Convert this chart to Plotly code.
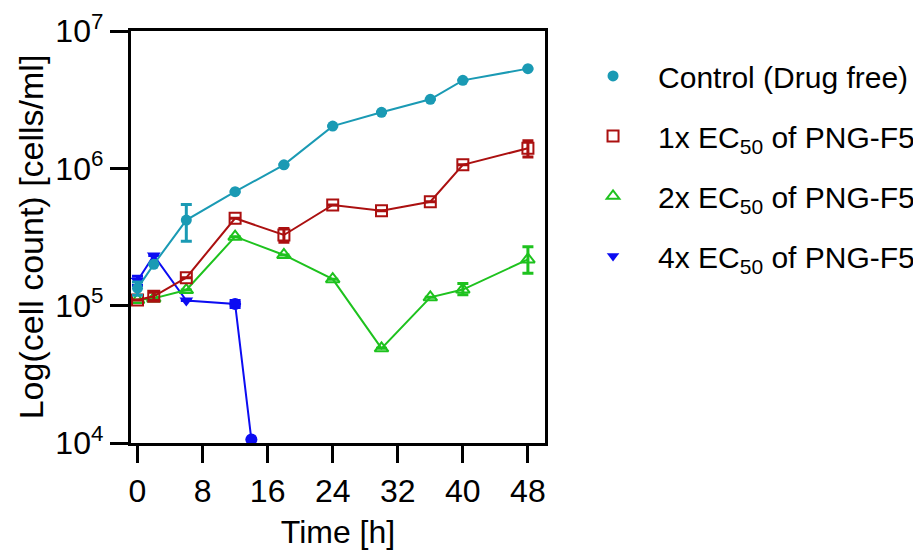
import plotly.graph_objects as go

time_control = [0, 2, 6, 12, 18, 24, 30, 36, 40, 48]
control = [1.34e5, 2.0e5, 4.2e5, 6.76e5, 1.06e6, 2.03e6, 2.56e6, 3.18e6, 4.37e6, 5.32e6]
control_err = [1.5e4, 0, 1.25e5, 0, 0, 0, 0, 0, 0, 0]

time_1x = [0, 2, 6, 12, 18, 24, 30, 36, 40, 48]
ec1x = [1.10e5, 1.17e5, 1.60e5, 4.33e5, 3.27e5, 5.41e5, 4.92e5, 5.71e5, 1.06e6, 1.40e6]
ec1x_err = [0, 8e3, 0, 0, 3.7e4, 0, 0, 0, 0, 1.9e5]

time_2x = [0, 2, 6, 12, 18, 24, 30, 36, 40, 48]
ec2x = [1.10e5, 1.13e5, 1.30e5, 3.18e5, 2.34e5, 1.56e5, 4.89e4, 1.15e5, 1.31e5, 2.17e5]
ec2x_err_plus = [0, 0, 0, 0, 0, 0, 0, 0, 1.4e4, 5.2e4]
ec2x_err_minus = [0, 0, 0, 0, 0, 0, 0, 0, 1.1e4, 4.5e4]

time_4x = [0, 2, 6, 12, 14]
ec4x = [1.52e5, 2.32e5, 1.09e5, 1.03e5, 1.06e4]
ec4x_err = [1.2e4, 0, 0, 6e3, 0]

names = ["Control (Drug free)",
         "1x EC<sub>50</sub> of PNG-F5",
         "2x EC<sub>50</sub> of PNG-F5",
         "4x EC<sub>50</sub> of PNG-F5"]

y_tickvals = [1e4, 1e5, 1e6, 1e7]
y_ticktext = ["10<sup>4</sup>", "10<sup>5</sup>", "10<sup>6</sup>", "10<sup>7</sup>"]
x_tickvals = [0, 8, 16, 24, 32, 40, 48]

C_CYAN = "#1a9ab4"
C_RED = "#ab1010"
C_GREEN = "#1ec21e"
C_BLUE = "#0c0cf2"

FONT = "Liberation Sans, Arial, sans-serif"

fig = go.Figure()

def err(arr, minus=None, color="black"):
    d = dict(type="data", array=arr, symmetric=minus is None, color=color,
             thickness=3, width=5.5)
    if minus is not None:
        d["arrayminus"] = minus
    return d

fig.add_trace(go.Scatter(x=time_4x, y=ec4x, mode="lines+markers", showlegend=False,
                         line=dict(color=C_BLUE, width=2),
                         marker=dict(symbol=["triangle-down"] * 3 + ["circle", "circle"],
                                     size=12, color=C_BLUE),
                         error_y=err(ec4x_err, color=C_BLUE)))
fig.add_trace(go.Scatter(x=time_2x, y=ec2x, mode="lines+markers", showlegend=False,
                         line=dict(color=C_GREEN, width=2),
                         marker=dict(symbol="triangle-up-open", size=12, color=C_GREEN,
                                     line=dict(width=2, color=C_GREEN)),
                         error_y=err(ec2x_err_plus, ec2x_err_minus, color=C_GREEN)))
fig.add_trace(go.Scatter(x=time_1x, y=ec1x, mode="lines+markers", showlegend=False,
                         line=dict(color=C_RED, width=2),
                         marker=dict(symbol="square-open", size=11, color=C_RED,
                                     line=dict(width=2, color=C_RED)),
                         error_y=err(ec1x_err, color=C_RED)))
fig.add_trace(go.Scatter(x=time_control, y=control, mode="lines+markers", showlegend=False,
                         line=dict(color=C_CYAN, width=2),
                         marker=dict(symbol="circle", size=11, color=C_CYAN),
                         error_y=err(control_err, color=C_CYAN)))

# legend-only entries (markers only)
leg = [(names[0], dict(symbol="circle", size=11, color=C_CYAN)),
       (names[1], dict(symbol="square-open", size=11, color=C_RED, line=dict(width=2, color=C_RED))),
       (names[2], dict(symbol="triangle-up-open", size=11, color=C_GREEN, line=dict(width=2, color=C_GREEN))),
       (names[3], dict(symbol="triangle-down", size=11, color=C_BLUE))]
for i, (nm, mk) in enumerate(leg):
    fig.add_trace(go.Scatter(x=[None], y=[None], mode="markers", name=nm, marker=mk,
                             legendgroup=f"g{i}", legendrank=i + 1))

axis_common = dict(showline=True, linewidth=3.4, linecolor="black", mirror=True,
                   ticks="outside", tickwidth=3.4, tickcolor="black",
                   showgrid=False, zeroline=False, automargin=False,
                   tickfont=dict(family=FONT, size=32, color="black"))

fig.update_layout(
    width=913, height=544,
    paper_bgcolor="white", plot_bgcolor="white",
    margin=dict(l=123, r=376, t=23, b=109, autoexpand=False),
    font=dict(family=FONT, color="black"),
    xaxis=dict(axis_common, range=[-0.8, 50.1], tickvals=x_tickvals, ticklen=17,
               title=dict(text="Time [h]", font=dict(family=FONT, size=32), standoff=14)),
    yaxis=dict(axis_common, type="log", range=[4, 7], tickvals=y_tickvals,
               ticktext=y_ticktext, ticklen=18,
               title=dict(text="Log(cell count) [cells/ml]", font=dict(family=FONT, size=34),
                          standoff=2)),
    legend=dict(xref="container", yref="container", x=0.6134, y=0.923,
                xanchor="left", yanchor="top",
                font=dict(family=FONT, size=30, color="black"),
                traceorder="grouped", tracegroupgap=18, itemwidth=80,
                bgcolor="rgba(0,0,0,0)"),
)

fig.write_html("out.html")
